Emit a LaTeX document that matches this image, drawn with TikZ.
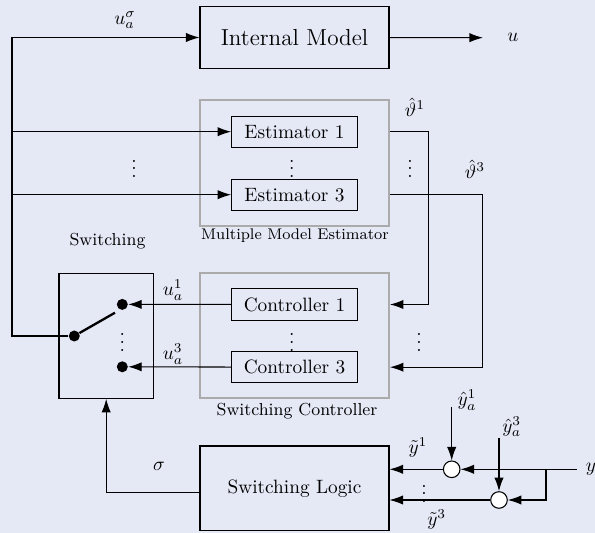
\documentclass[tikz,border=0pt]{standalone}
\usepackage{amsmath}
\usepackage{amssymb}
\usepackage{xcolor}
\usepackage{tikz}
\usetikzlibrary{arrows.meta}
\definecolor{bgc}{RGB}{229,233,246}

\begin{document}
\begin{tikzpicture}[x=0.5181pt,y=-0.5181pt,
		blk/.style={draw,line width=0.55pt,inner sep=0pt},
		grp/.style={draw=black!33,line width=1pt,inner sep=0pt},
		sumpt/.style={draw,line width=0.55pt,circle,fill=white,minimum size=8.6pt,inner sep=0pt},
		contact/.style={circle,fill,minimum size=5.7pt,inner sep=0pt},
		sig/.style={line width=0.55pt,-{Latex[length=7pt,width=4.8pt]}},
		wire/.style={line width=0.55pt},
		lbl/.style={inner sep=0.5pt}]
			\fill[bgc] (0,0) rectangle (595,533);
			\useasboundingbox (0,0) rectangle (595,533);
			\node[blk,minimum width=97.9pt,minimum height=32.6pt,font=\large] (im) at (294.5,37.5) {Internal Model};
			\node[grp,minimum width=97.9pt,minimum height=65.3pt] (mme) at (294.5,163) {};
			\node[blk,minimum width=65.1pt,minimum height=16.2pt] (est1) at (294.5,131.7) {Estimator 1};
			\node[blk,minimum width=65.1pt,minimum height=16.2pt] (est3) at (294.5,194.7) {Estimator 3};
			\node[lbl,font=\footnotesize] (mmelbl) at (295,236) {Multiple Model Estimator};
			\node[grp,minimum width=97.9pt,minimum height=64.8pt] (sc) at (294.5,335.8) {};
			\node[blk,minimum width=65.1pt,minimum height=16.2pt] (ctrl1) at (294.5,304.5) {Controller 1};
			\node[blk,minimum width=65.1pt,minimum height=16.2pt] (ctrl3) at (294.5,367.2) {Controller 3};
			\node[lbl,font=\small] (sclbl) at (297,411.5) {Switching Controller};
			\node[blk,minimum width=48.9pt,minimum height=64.8pt] (sw) at (106.2,335.8) {};
			\node[lbl,font=\small] (swlbl) at (107.5,240.7) {Switching};
			\node[blk,minimum width=97.9pt,minimum height=44pt] (sl) at (294.5,488.5) {Switching Logic};
			\node[contact] (c0) at (74.3,336) {};
			\node[contact] (c1) at (122.3,304.4) {};
			\node[contact] (c3) at (122.3,366.8) {};
			\node[sumpt] (s1) at (451.7,469.3) {};
			\node[sumpt] (s3) at (499,500) {};
			\coordinate (busx) at (12,0);
			\coordinate (arm) at (115,312.7);
			\coordinate (th1) at (428.3,0);
			\coordinate (th3) at (482.7,0);
			\coordinate (uout) at (483,37.7);
			\coordinate (yin) at (576.7,469.3);
			\coordinate (br) at (546,469.3);
			\coordinate (ya1) at (451.7,406.7);
			\coordinate (ya3) at (499,438);
			\draw[sig] (c0) -- (c0 -| busx) |- (im.west);
			\draw[sig] (est1.west -| busx) -- (est1.west);
			\draw[sig] (est3.west -| busx) -- (est3.west);
			\draw[sig] (im) -- (uout);
			\draw[line width=1.2pt] (c0) -- (arm);
			\draw[sig] (est1.east -| mme.east) -| (th1 |- ctrl1) -- (ctrl1.east -| sc.east);
			\draw[sig] (est3.east -| mme.east) -| (th3 |- ctrl3) -- (ctrl3.east -| sc.east);
			\draw[sig] (ctrl1) -- (c1);
			\draw[sig] (ctrl3) -- (c3);
			\draw[sig] ([yshift=-2.2pt]sl.west) -| (sw.south);
			\draw[wire] (yin) -- (br);
			\draw[sig] (br) -- (s1);
			\draw[sig] (br) |- (s3);
			\draw[sig] (s1) -- (s1 -| sl.east);
			\draw[sig] (s3) -- (s3 -| sl.east);
			\draw[sig] (ya1) -- (s1);
			\draw[sig] (ya3) -- (s3);
			\node[lbl] (lsig) at (125,20) {$u_a^\sigma$};
			\node[lbl] (lu) at (513,37) {$u$};
			\node[lbl] (lth1) at (415,107) {$\hat{\vartheta}^1$};
			\node[lbl] (lth3) at (475,169) {$\hat{\vartheta}^3$};
			\node[lbl] (lu1) at (173,290) {$u_a^1$};
			\node[lbl] (lu3) at (173,354) {$u_a^3$};
			\node[lbl] (lsg) at (159,466) {$\sigma$};
			\node[lbl] (lyt1) at (418,448) {$\tilde{y}^1$};
			\node[lbl] (lyt3) at (436.7,520) {$\tilde{y}^3$};
			\node[lbl] (lya1) at (467,400) {$\hat{y}_a^1$};
			\node[lbl] (lya3) at (511.7,426.7) {$\hat{y}_a^3$};
			\node[lbl] (ly) at (591,469) {$y$};
			\node[lbl] (d1) at (134,163) {$\vdots$};
			\node[lbl] (d2) at (291.7,163) {$\vdots$};
			\node[lbl] (d3) at (410,163) {$\vdots$};
			\node[lbl] (d4) at (291.7,336.7) {$\vdots$};
			\node[lbl] (d5) at (419,336.7) {$\vdots$};
			\node[lbl] (d6) at (122.3,336.7) {$\vdots$};
			\node[lbl] (d7) at (424,488) {$\vdots$};
		\end{tikzpicture}
\end{document}
